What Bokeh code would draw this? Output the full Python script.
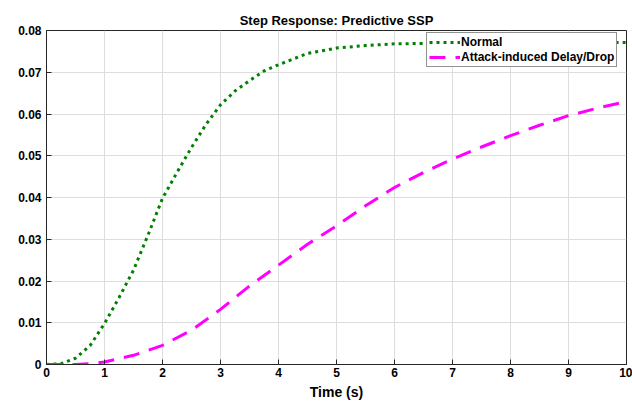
from bokeh.plotting import figure
from bokeh.models import Range1d, FixedTicker, Legend, LegendItem, Label
from bokeh.embed import file_html
from bokeh.resources import INLINE

# ---- data ----
t_normal = [0, 0.25, 0.5, 0.75, 1.0, 1.25, 1.5, 1.75, 2.0, 2.25, 2.5, 2.75, 3.0,
            3.25, 3.5, 3.75, 4.0, 4.5, 5.0, 5.5, 6.0, 6.5, 7.0, 8.0, 9.0, 10.0]
y_normal = [0, 0.0002, 0.0015, 0.0045, 0.0098, 0.016, 0.0226, 0.031, 0.0398, 0.046,
            0.052, 0.0575, 0.0622, 0.0655, 0.068, 0.0703, 0.0718, 0.0745, 0.0758,
            0.0764, 0.0768, 0.0769, 0.077, 0.0771, 0.0771, 0.0771]
t_attack = [0, 0.5, 0.75, 1.0, 1.5, 2.0, 2.5, 3.0, 3.5, 4.0, 4.5, 5.0, 5.5, 6.0,
            6.5, 7.0, 7.5, 8.0, 8.5, 9.0, 9.5, 10.0]
y_attack = [0, 0.0, 0.0002, 0.0006, 0.0022, 0.0046, 0.0082, 0.0132, 0.0188, 0.0238,
            0.0288, 0.0332, 0.038, 0.0424, 0.046, 0.0492, 0.0521, 0.0548, 0.0573,
            0.0596, 0.0614, 0.063]
x_ticks = [0, 1, 2, 3, 4, 5, 6, 7, 8, 9, 10]
y_ticks = [0, 0.01, 0.02, 0.03, 0.04, 0.05, 0.06, 0.07, 0.08]
y_tick_labels = ["0", "0.01", "0.02", "0.03", "0.04", "0.05", "0.06", "0.07", "0.08"]
title_text = "Step Response: Predictive SSP"
x_label = "Time (s)"
y_label = "."
series_names = ["Normal", "Attack-induced Delay/Drop"]

FONT = "Liberation Sans"
AX = "#262626"

p = figure(width=632, height=405, output_backend="svg", toolbar_location=None,
           x_range=Range1d(0, 10), y_range=Range1d(0, 0.08),
           min_border_left=46, min_border_right=6, min_border_top=30, min_border_bottom=41)
p.background_fill_color = "white"
p.border_fill_color = "white"
p.outline_line_color = AX
p.outline_line_width = 1

p.title.text = title_text
p.title.text_font = FONT
p.title.text_font_size = "13px"
p.title.text_font_style = "bold"
p.title.align = "center"
p.title.text_color = "black"
p.title.offset = 0
p.title.standoff = 5

xax = p.xaxis[0]
yax = p.yaxis[0]
for ax in (xax, yax):
    ax.axis_line_color = AX
    ax.major_tick_line_color = AX
    ax.major_tick_in = 5
    ax.major_tick_out = 0
    ax.minor_tick_line_color = None
    ax.major_label_text_font = FONT
    ax.major_label_text_font_size = "12px"
    ax.major_label_text_font_style = "bold"
    ax.major_label_text_color = "black"

xax.ticker = FixedTicker(ticks=x_ticks)
yax.ticker = FixedTicker(ticks=y_ticks)
yax.major_label_overrides = {v: s for v, s in zip(y_ticks, y_tick_labels)}
xax.major_label_standoff = 3
yax.major_label_standoff = 5

xax.axis_label = x_label
xax.axis_label_text_font = FONT
xax.axis_label_text_font_size = "14px"
xax.axis_label_text_font_style = "bold"
xax.axis_label_text_color = "black"
xax.axis_label_standoff = 4

p.xgrid.ticker = FixedTicker(ticks=x_ticks)
p.ygrid.ticker = FixedTicker(ticks=y_ticks)
p.grid.grid_line_color = "#dedede"
p.grid.grid_line_width = 1

r1 = p.line(t_normal, y_normal, line_color="#008000", line_width=3, line_dash="3 4")
r2 = p.line(t_attack, y_attack, line_color="#ff00ff", line_width=3, line_dash="16 10")

legend = Legend(items=[LegendItem(label=series_names[0], renderers=[r1]),
                       LegendItem(label=series_names[1], renderers=[r2])],
                location=(380, 297))
legend.label_text_font = FONT
legend.label_text_font_size = "12px"
legend.label_text_font_style = "bold"
legend.label_text_color = "black"
legend.glyph_width = 31
legend.glyph_height = 14
legend.label_height = 14
legend.label_standoff = 1
legend.spacing = 1
legend.padding = 2
legend.margin = 0
legend.border_line_color = AX
legend.border_line_width = 1
legend.background_fill_color = "white"
legend.background_fill_alpha = 1
p.add_layout(legend, "center")

p.add_layout(Label(x=-31, y=169, x_units="screen", y_units="screen", text=y_label,
                   text_font=FONT, text_font_size="12px", text_font_style="bold",
                   text_align="center", text_baseline="alphabetic"))

open("out.html", "w").write(file_html(p, INLINE))
